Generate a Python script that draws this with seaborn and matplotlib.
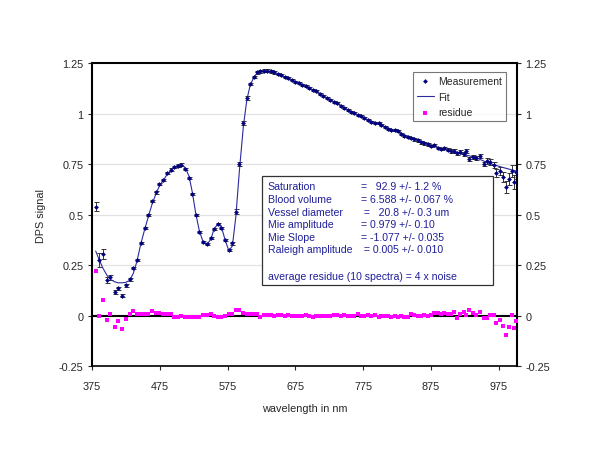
import numpy as np
import pandas as pd
import matplotlib
matplotlib.use("Agg")
import matplotlib.pyplot as plt
from matplotlib.patches import Rectangle
import seaborn as sns

# wavelengths of the measured points (nm)
wavelength = [
    380.5, 385.8, 391.2, 397.1, 402.0, 408.5, 413.4, 419.3, 424.8, 430.7,
    436.0, 441.4, 446.9, 452.8, 458.1, 463.6, 469.0, 474.4, 480.3, 485.3,
    491.2, 496.5, 501.5, 506.8, 512.8, 518.2, 523.1, 528.1, 533.4, 539.3,
    544.3, 550.3, 555.1, 561.0, 565.9, 571.4, 576.8, 582.1, 587.2, 592.5,
    598.4, 603.4, 608.3, 613.7, 618.6, 623.5, 629.0, 633.8, 639.3, 644.2,
    649.6, 654.5, 660.0, 664.8, 669.9, 675.2, 680.2, 685.5, 690.5, 695.4,
    700.9, 705.7, 711.2, 716.1, 721.5, 726.4, 731.3, 736.3, 742.2, 747.1,
    752.0, 757.0, 761.8, 766.7, 771.7, 776.6, 781.5, 786.5, 791.8, 797.7,
    801.7, 806.6, 811.6, 816.5, 821.3, 826.4, 830.8, 835.7, 840.5, 845.5,
    850.4, 855.3, 860.3, 865.2, 870.1, 875.1, 880.0, 884.8, 889.8, 894.7,
    899.6, 904.6, 909.5, 913.5, 918.3, 923.2, 927.2, 930.6, 937.1, 942.0,
    946.8, 952.8, 957.5, 962.5, 967.5, 971.5, 976.4, 980.8, 985.2, 989.6,
    994.7, 998.0, 1001.0,
]

measurement = [
    0.540, 0.276, 0.305, 0.177, 0.190, 0.116, 0.135, 0.099, 0.150, 0.180,
    0.236, 0.277, 0.360, 0.434, 0.498, 0.569, 0.610, 0.652, 0.673, 0.706,
    0.723, 0.736, 0.743, 0.748, 0.726, 0.683, 0.602, 0.498, 0.413, 0.366,
    0.355, 0.386, 0.429, 0.454, 0.433, 0.375, 0.324, 0.358, 0.515, 0.751,
    0.952, 1.078, 1.147, 1.183, 1.205, 1.210, 1.213, 1.213, 1.210, 1.205,
    1.196, 1.190, 1.183, 1.175, 1.167, 1.157, 1.150, 1.144, 1.135, 1.126,
    1.119, 1.111, 1.099, 1.086, 1.076, 1.068, 1.060, 1.051, 1.040, 1.030,
    1.018, 1.010, 1.002, 0.994, 0.987, 0.979, 0.969, 0.960, 0.954, 0.954,
    0.946, 0.933, 0.926, 0.921, 0.918, 0.914, 0.898, 0.891, 0.885, 0.878,
    0.873, 0.868, 0.858, 0.853, 0.848, 0.839, 0.845, 0.829, 0.824, 0.829,
    0.822, 0.815, 0.815, 0.804, 0.812, 0.800, 0.815, 0.776, 0.786, 0.779,
    0.789, 0.750, 0.765, 0.760, 0.745, 0.706, 0.718, 0.685, 0.636, 0.677,
    0.718, 0.660, 0.710,
]

error = [
    0.022, 0.035, 0.025, 0.015, 0.013, 0.010, 0.008, 0.008, 0.006, 0.006,
    0.006, 0.006, 0.006, 0.006, 0.006, 0.006, 0.006, 0.006, 0.006, 0.006,
    0.006, 0.006, 0.006, 0.006, 0.006, 0.006, 0.006, 0.006, 0.006, 0.006,
    0.006, 0.006, 0.006, 0.006, 0.006, 0.006, 0.006, 0.006, 0.012, 0.012,
    0.010, 0.008, 0.006, 0.006, 0.006, 0.006, 0.006, 0.006, 0.006, 0.006,
    0.005, 0.005, 0.005, 0.005, 0.005, 0.005, 0.005, 0.005, 0.005, 0.005,
    0.005, 0.005, 0.005, 0.005, 0.005, 0.005, 0.005, 0.005, 0.005, 0.005,
    0.005, 0.005, 0.005, 0.005, 0.005, 0.005, 0.005, 0.005, 0.005, 0.005,
    0.005, 0.005, 0.005, 0.005, 0.005, 0.005, 0.005, 0.005, 0.005, 0.005,
    0.006, 0.006, 0.006, 0.006, 0.006, 0.006, 0.006, 0.006, 0.006, 0.006,
    0.008, 0.008, 0.008, 0.008, 0.008, 0.008, 0.008, 0.010, 0.010, 0.010,
    0.010, 0.010, 0.015, 0.015, 0.015, 0.020, 0.020, 0.025, 0.030, 0.030,
    0.030, 0.035, 0.035,
]

residue = [
    0.220, 0.000, 0.078, -0.023, 0.008, -0.055, -0.028, -0.066, -0.015, 0.008,
    0.023, 0.006, 0.006, 0.010, 0.010, 0.023, 0.012, 0.012, 0.006, 0.010,
    0.006, -0.005, -0.005, 0.000, -0.008, -0.008, -0.008, -0.008, -0.005, 0.005,
    0.005, 0.010, 0.000, -0.005, -0.005, 0.000, 0.007, 0.010, 0.026, 0.030,
    0.013, 0.010, 0.007, 0.007, 0.007, -0.005, 0.003, 0.003, 0.003, 0.000,
    0.005, 0.003, 0.000, 0.005, 0.000, -0.003, 0.000, 0.000, 0.005, 0.000,
    -0.005, -0.003, -0.003, 0.000, -0.003, 0.000, 0.003, 0.003, 0.000, 0.005,
    -0.003, 0.000, 0.000, 0.008, -0.003, 0.000, 0.003, 0.000, 0.003, -0.005,
    -0.003, -0.003, 0.000, -0.005, -0.003, -0.005, -0.003, -0.005, -0.005, 0.008,
    0.003, 0.000, 0.000, 0.003, -0.003, 0.003, 0.013, 0.013, 0.008, 0.013,
    0.007, 0.010, 0.016, -0.009, 0.007, 0.016, 0.003, 0.030, 0.013, 0.005,
    0.020, -0.010, -0.010, 0.005, 0.003, -0.038, -0.020, -0.052, -0.095, -0.054,
    0.005, -0.061, -0.028,
]

# fitted model curve
fit_wavelength = [
    380.5, 385.8, 391.2, 397.1, 402.0, 408.5, 413.4, 419.3, 424.8, 430.7,
    436.0, 441.4, 446.9, 452.8, 458.1, 463.6, 469.0, 474.4, 480.3, 485.3,
    491.2, 496.5, 501.5, 506.8, 512.8, 518.2, 523.1, 528.1, 533.4, 539.3,
    544.3, 550.3, 555.1, 561.0, 565.9, 571.4, 576.8, 582.1, 587.2, 592.5,
    598.4, 603.4, 608.3, 613.7, 618.6, 623.5, 629.0, 633.8, 639.3, 644.2,
    649.6, 660.0, 680.0, 700.0, 720.0, 740.0, 760.0, 780.0, 800.0, 820.0,
    840.0, 860.0, 880.0, 900.0, 920.0, 940.0, 960.0, 980.0, 1001.0,
]
fit_value = [
    0.320, 0.276, 0.235, 0.200, 0.180, 0.168, 0.163, 0.163, 0.165, 0.175,
    0.210, 0.270, 0.354, 0.428, 0.490, 0.552, 0.600, 0.642, 0.670, 0.697,
    0.718, 0.735, 0.745, 0.748, 0.732, 0.690, 0.610, 0.505, 0.420, 0.362,
    0.352, 0.378, 0.430, 0.455, 0.440, 0.375, 0.322, 0.345, 0.490, 0.720,
    0.940, 1.068, 1.140, 1.180, 1.200, 1.208, 1.210, 1.210, 1.207, 1.200,
    1.193, 1.178, 1.148, 1.118, 1.080, 1.043, 1.004, 0.972, 0.945, 0.918,
    0.890, 0.862, 0.837, 0.818, 0.800, 0.785, 0.755, 0.735, 0.716,
]

fit_text_labels = ["Saturation", "Blood volume", "Vessel diameter",
                   "Mie amplitude", "Mie Slope", "Raleigh amplitude"]
fit_text_values = ["=   92.9 +/- 1.2 %", "= 6.588 +/- 0.067 %", " =   20.8 +/- 0.3 um",
                   "= 0.979 +/- 0.10", "= -1.077 +/- 0.035", " = 0.005 +/- 0.010"]
footer = "average residue (10 spectra) = 4 x noise"

df = pd.DataFrame({"wavelength": wavelength, "measurement": measurement,
                   "error": error, "residue": residue})
fit_df = pd.DataFrame({"wavelength": fit_wavelength, "fit": fit_value})

sns.set_style("white")
plt.rcParams["font.family"] = ["Liberation Sans", "DejaVu Sans"]

navy = "#000080"
txt_blue = "#1f1f99"

fig = plt.figure(figsize=(6, 4.64), dpi=100)
ax = fig.add_axes([0.1533, 0.2086, 0.7084, 0.653])

for y in [0.25, 0.5, 0.75, 1.0]:
    ax.axhline(y, color="#e2e2e2", lw=0.9, zorder=0)
ax.axhline(0, color="black", lw=1.5, zorder=1)

ax.errorbar(df["wavelength"], df["measurement"], yerr=df["error"], fmt="none",
            ecolor="#333333", elinewidth=0.7, capsize=1.8, capthick=0.7, zorder=2)
sns.lineplot(data=fit_df, x="wavelength", y="fit", ax=ax, color="#2b2ba0",
             lw=0.8, label="Fit", zorder=3)
sns.scatterplot(data=df, x="wavelength", y="measurement", ax=ax, color=navy,
                marker="D", s=6, linewidth=0, label="Measurement", zorder=4)
sns.scatterplot(data=df, x="wavelength", y="residue", ax=ax, color="#ff00ff",
                marker="s", s=7, linewidth=0, label="residue", zorder=4)

ax.set_xlim(375, 1002)
ax.set_ylim(-0.25, 1.25)
ax.set_xticks([375, 475, 575, 675, 775, 875, 975])
ax.set_yticks([-0.25, 0, 0.25, 0.5, 0.75, 1.0, 1.25])
ax.set_yticklabels(["-0.25", "0", "0.25", "0.5", "0.75", "1", "1.25"])
ax.tick_params(axis="y", which="both", direction="out", length=3, width=0.8,
               left=True, right=True, labelleft=True, labelright=True,
               labelsize=7.8, pad=3)
ax.tick_params(axis="x", direction="out", length=3, width=0.8, bottom=True,
               labelsize=7.8, pad=8)
ax.set_xlabel("wavelength in nm", fontsize=7.8, labelpad=8)
ax.set_ylabel("DPS signal", fontsize=7.8, labelpad=9)

for side in ["left", "right", "top"]:
    ax.spines[side].set_linewidth(1.5)
    ax.spines[side].set_color("black")
ax.spines["bottom"].set_linewidth(1.2)
ax.spines["bottom"].set_color("black")

handles, labels = ax.get_legend_handles_labels()
order = [labels.index(n) for n in ["Measurement", "Fit", "residue"]]
leg = ax.legend([handles[i] for i in order], [labels[i] for i in order],
                loc="upper left", bbox_to_anchor=(0.755, 0.972), fontsize=7.5,
                frameon=True, fancybox=False, edgecolor="#555555",
                handlelength=1.6, handletextpad=0.4, borderpad=0.4,
                labelspacing=0.55, borderaxespad=0)
leg.get_frame().set_linewidth(0.8)

ax.add_patch(Rectangle((0.399, 0.268), 0.545, 0.361, transform=ax.transAxes,
                       facecolor="white", edgecolor="#333333", lw=0.9, zorder=5))
rows_y = [0.594, 0.5505, 0.51, 0.4695, 0.4277, 0.3858]
for lab, val, yy in zip(fit_text_labels, fit_text_values, rows_y):
    ax.text(0.414, yy, lab, transform=ax.transAxes, fontsize=7.6, color=txt_blue,
            va="center", ha="left", zorder=6)
    ax.text(0.633, yy, val, transform=ax.transAxes, fontsize=7.6, color=txt_blue,
            va="center", ha="left", zorder=6)
ax.text(0.414, 0.2983, footer, transform=ax.transAxes, fontsize=7.6,
        color=txt_blue, va="center", ha="left", zorder=6)

fig.savefig("out.png", dpi=100)
